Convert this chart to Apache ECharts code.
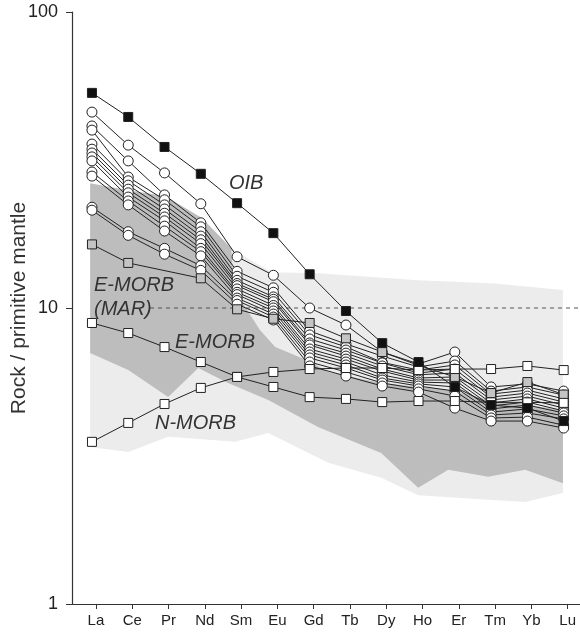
<!DOCTYPE html>
<html>
<head>
<meta charset="utf-8">
<title>REE patterns normalised to primitive mantle</title>
<script src="https://cdn.jsdelivr.net/npm/echarts@6/dist/echarts.min.js"></script>
<style>
  html, body { margin: 0; padding: 0; background: #fff; }
  #chart { width: 580px; height: 634px; }
</style>
</head>
<body>
<div id="chart"></div>
<script>
// rare earth elements along the x axis
const elements = ['La', 'Ce', 'Pr', 'Nd', 'Sm', 'Eu', 'Gd', 'Tb', 'Dy', 'Ho', 'Er', 'Tm', 'Yb', 'Lu']
const yTicks = [1, 10, 100]

// reference compositions (rock / primitive mantle)
const oib = [53.3, 44.2, 35.0, 28.4, 22.6, 17.9, 13.0, 9.77, 7.61, 6.57, 5.41, 4.70, 4.59, 4.15]
const emorbMar = [16.4, 14.2, null, 12.6, 9.9, 9.2, 8.9, 7.9, 7.1, 6.4, 5.85, 5.16, 5.62, 5.1]
const emorb = [8.9, 8.23, 7.38, 6.57, 5.85, 5.41, 5.0, 4.93, 4.81, 4.85, 4.85, 4.8, 4.8, 4.78]
const nmorb = [3.53, 4.09, 4.74, 5.37, 5.85, 6.08, 6.22, 6.27, 6.27, 6.17, 6.22, 6.22, 6.37, 6.17]

// samples (open circles)
const samples = [
  [45.9, 35.5, 28.6, 22.5, 14.9, 12.9, 10.0, 8.76, 7.10, 6.47, 7.10, 5.41, 5.54, 5.24],
  [41.2, 31.4, 24.1, 19.4, 13.3, 11.7, 8.36, 7.56, 6.88, 6.32, 6.62, 5.24, 5.41, 5.08],
  [39.9, 27.7, 23.2, 18.8, 12.8, 11.3, 8.11, 7.39, 6.55, 6.17, 6.42, 5.12, 5.28, 4.93],
  [35.8, 26.9, 22.3, 18.1, 12.4, 10.9, 7.86, 7.21, 6.52, 6.03, 6.22, 5.00, 5.16, 4.81],
  [34.4, 26.0, 21.6, 17.5, 12.1, 10.7, 7.62, 7.04, 6.37, 5.95, 6.03, 4.89, 5.04, 4.70],
  [33.4, 25.2, 20.9, 17.0, 11.9, 10.5, 7.50, 6.88, 6.22, 5.80, 5.85, 4.78, 4.93, 4.59],
  [32.4, 24.5, 20.3, 16.5, 11.6, 10.2, 7.27, 6.72, 6.12, 5.71, 5.71, 4.67, 4.81, 4.49],
  [31.4, 23.7, 19.7, 15.9, 11.3, 10.0, 7.10, 6.57, 5.94, 5.62, 5.58, 4.56, 4.70, 4.42],
  [28.8, 23.0, 18.9, 15.5, 11.1, 9.77, 6.94, 6.42, 5.80, 5.54, 5.41, 4.45, 4.56, 4.32],
  [27.9, 22.3, 18.2, 15.0, 10.8, 9.54, 6.78, 6.27, 5.71, 5.45, 5.24, 4.35, 4.42, 4.22],
  [21.9, 18.1, 15.9, 13.9, 10.6, 9.32, 6.57, 6.08, 5.58, 5.33, 5.04, 4.25, 4.28, 4.02],
  [21.4, 17.6, 15.2, 13.4, 10.3, 9.11, 6.37, 5.89, 5.45, 5.20, 4.59, 4.15, 4.15, 3.93],
]

// shaded MORB fields, outline as [element index, value]
const fieldDark = [
  [-0.05, 26.4], [1.0, 25.0], [2.02, 23.9], [3.04, 20.1], [3.84, 15.9], [3.92, 11.5],
  [4.63, 8.43], [5.05, 7.38], [6.04, 6.57], [6.51, 6.08], [7.97, 5.58], [9.9, 5.28],
  [10.92, 4.89], [12.98, 4.52], [12.98, 2.56], [11.94, 2.84], [10.92, 2.69], [9.82, 2.84],
  [8.99, 2.47], [7.97, 3.24], [6.23, 3.96], [4.86, 4.89], [3.75, 5.58], [2.93, 6.27],
  [2.1, 5.0], [1.0, 6.17], [-0.05, 7.05],
]
const fieldLight = [
  [-0.05, 25.0], [3.04, 19.8], [3.92, 15.7], [4.94, 13.2], [6.23, 13.1], [8.99, 12.4],
  [11.11, 12.1], [12.98, 11.5], [12.98, 2.37], [11.94, 2.21], [10.92, 2.25], [8.99, 2.33],
  [7.97, 2.67], [6.51, 3.0], [4.86, 3.78], [3.95, 3.53], [2.1, 3.67], [1.0, 3.26], [-0.05, 3.39],
]

const font = '"Liberation Sans", Arial, Helvetica, sans-serif'
const lineColor = '#222'

const toPoints = (arr) => arr.map((v, i) => (v == null ? null : [i, v])).filter(Boolean)

const fieldSeries = (outline, color) => ({
  type: 'custom',
  silent: true,
  z: 1,
  data: [[0, 10]],
  renderItem: (params, api) => ({
    type: 'polygon',
    shape: { points: outline.map((p) => api.coord(p)) },
    style: { fill: color },
  }),
})

const profile = (name, data, symbol, fill, z) => ({
  name,
  type: 'line',
  z,
  data: toPoints(data),
  symbol,
  symbolSize: symbol === 'rect' ? 9 : 10,
  showSymbol: true,
  lineStyle: { color: lineColor, width: 1 },
  itemStyle: { color: fill, borderColor: lineColor, borderWidth: 1 },
  emphasis: { disabled: true },
  animation: false,
})

// field labels, placed in pixels
const label = (text, x, y) => ({
  type: 'text',
  x,
  y,
  z: 100,
  style: { text, font: 'italic 20px ' + font, fill: '#333', verticalAlign: 'middle' },
})

const chart = echarts.init(document.getElementById('chart'))

const tickPos = elements.map((_, i) => i + 0.11)

const option = {
  backgroundColor: '#fff',
  animation: false,
  grid: { left: 72, right: 0, top: 12, bottom: 30, containLabel: false, outerBoundsMode: 'none' },
  xAxis: {
    type: 'value',
    min: -0.55,
    max: 13.45,
    splitLine: { show: false },
    axisLine: { onZero: false, lineStyle: { color: '#333', width: 1.2 } },
    axisTick: { customValues: tickPos, length: 5, lineStyle: { color: '#333' } },
    axisLabel: {
      customValues: tickPos,
      formatter: (v) => elements[Math.round(v)],
      color: '#222',
      fontSize: 15,
      fontFamily: font,
      margin: 9,
    },
  },
  yAxis: {
    type: 'log',
    logBase: 10,
    min: yTicks[0],
    max: yTicks[yTicks.length - 1],
    name: 'Rock / primitive mantle',
    nameLocation: 'middle',
    nameGap: 42,
    nameMoveOverlap: false,
    nameTextStyle: { color: '#333', fontSize: 21, fontFamily: font },
    splitLine: { show: false },
    minorTick: { show: false },
    axisLine: { show: true, onZero: false, lineStyle: { color: '#333', width: 1.2 } },
    axisTick: { length: 6, lineStyle: { color: '#333' } },
    axisLabel: { color: '#222', fontSize: 18, fontFamily: font, margin: 14 },
  },
  graphic: [
    label('OIB', 229, 183),
    label('E-MORB', 94, 285),
    label('(MAR)', 94, 309),
    label('E-MORB', 175, 342),
    label('N-MORB', 155, 423),
  ],
  series: [
    fieldSeries(fieldLight, '#ececec'),
    fieldSeries(fieldDark, '#bdbdbd'),
    {
      type: 'line',
      z: 2,
      silent: true,
      symbol: 'none',
      data: [[1.6, 10], [13.45, 10]],
      lineStyle: { color: '#555', width: 1, type: [4, 4] },
    },
    ...samples.map((s, i) => profile('sample ' + (i + 1), s, 'circle', '#fff', 3)),
    profile('E-MORB (MAR)', emorbMar, 'rect', '#c4c4c4', 4),
    profile('E-MORB', emorb, 'rect', '#fff', 4),
    profile('N-MORB', nmorb, 'rect', '#fff', 4),
    profile('OIB', oib, 'rect', '#111', 5),
  ],
}

chart.setOption(option)
window.addEventListener('resize', () => chart.resize())
</script>
</body>
</html>
